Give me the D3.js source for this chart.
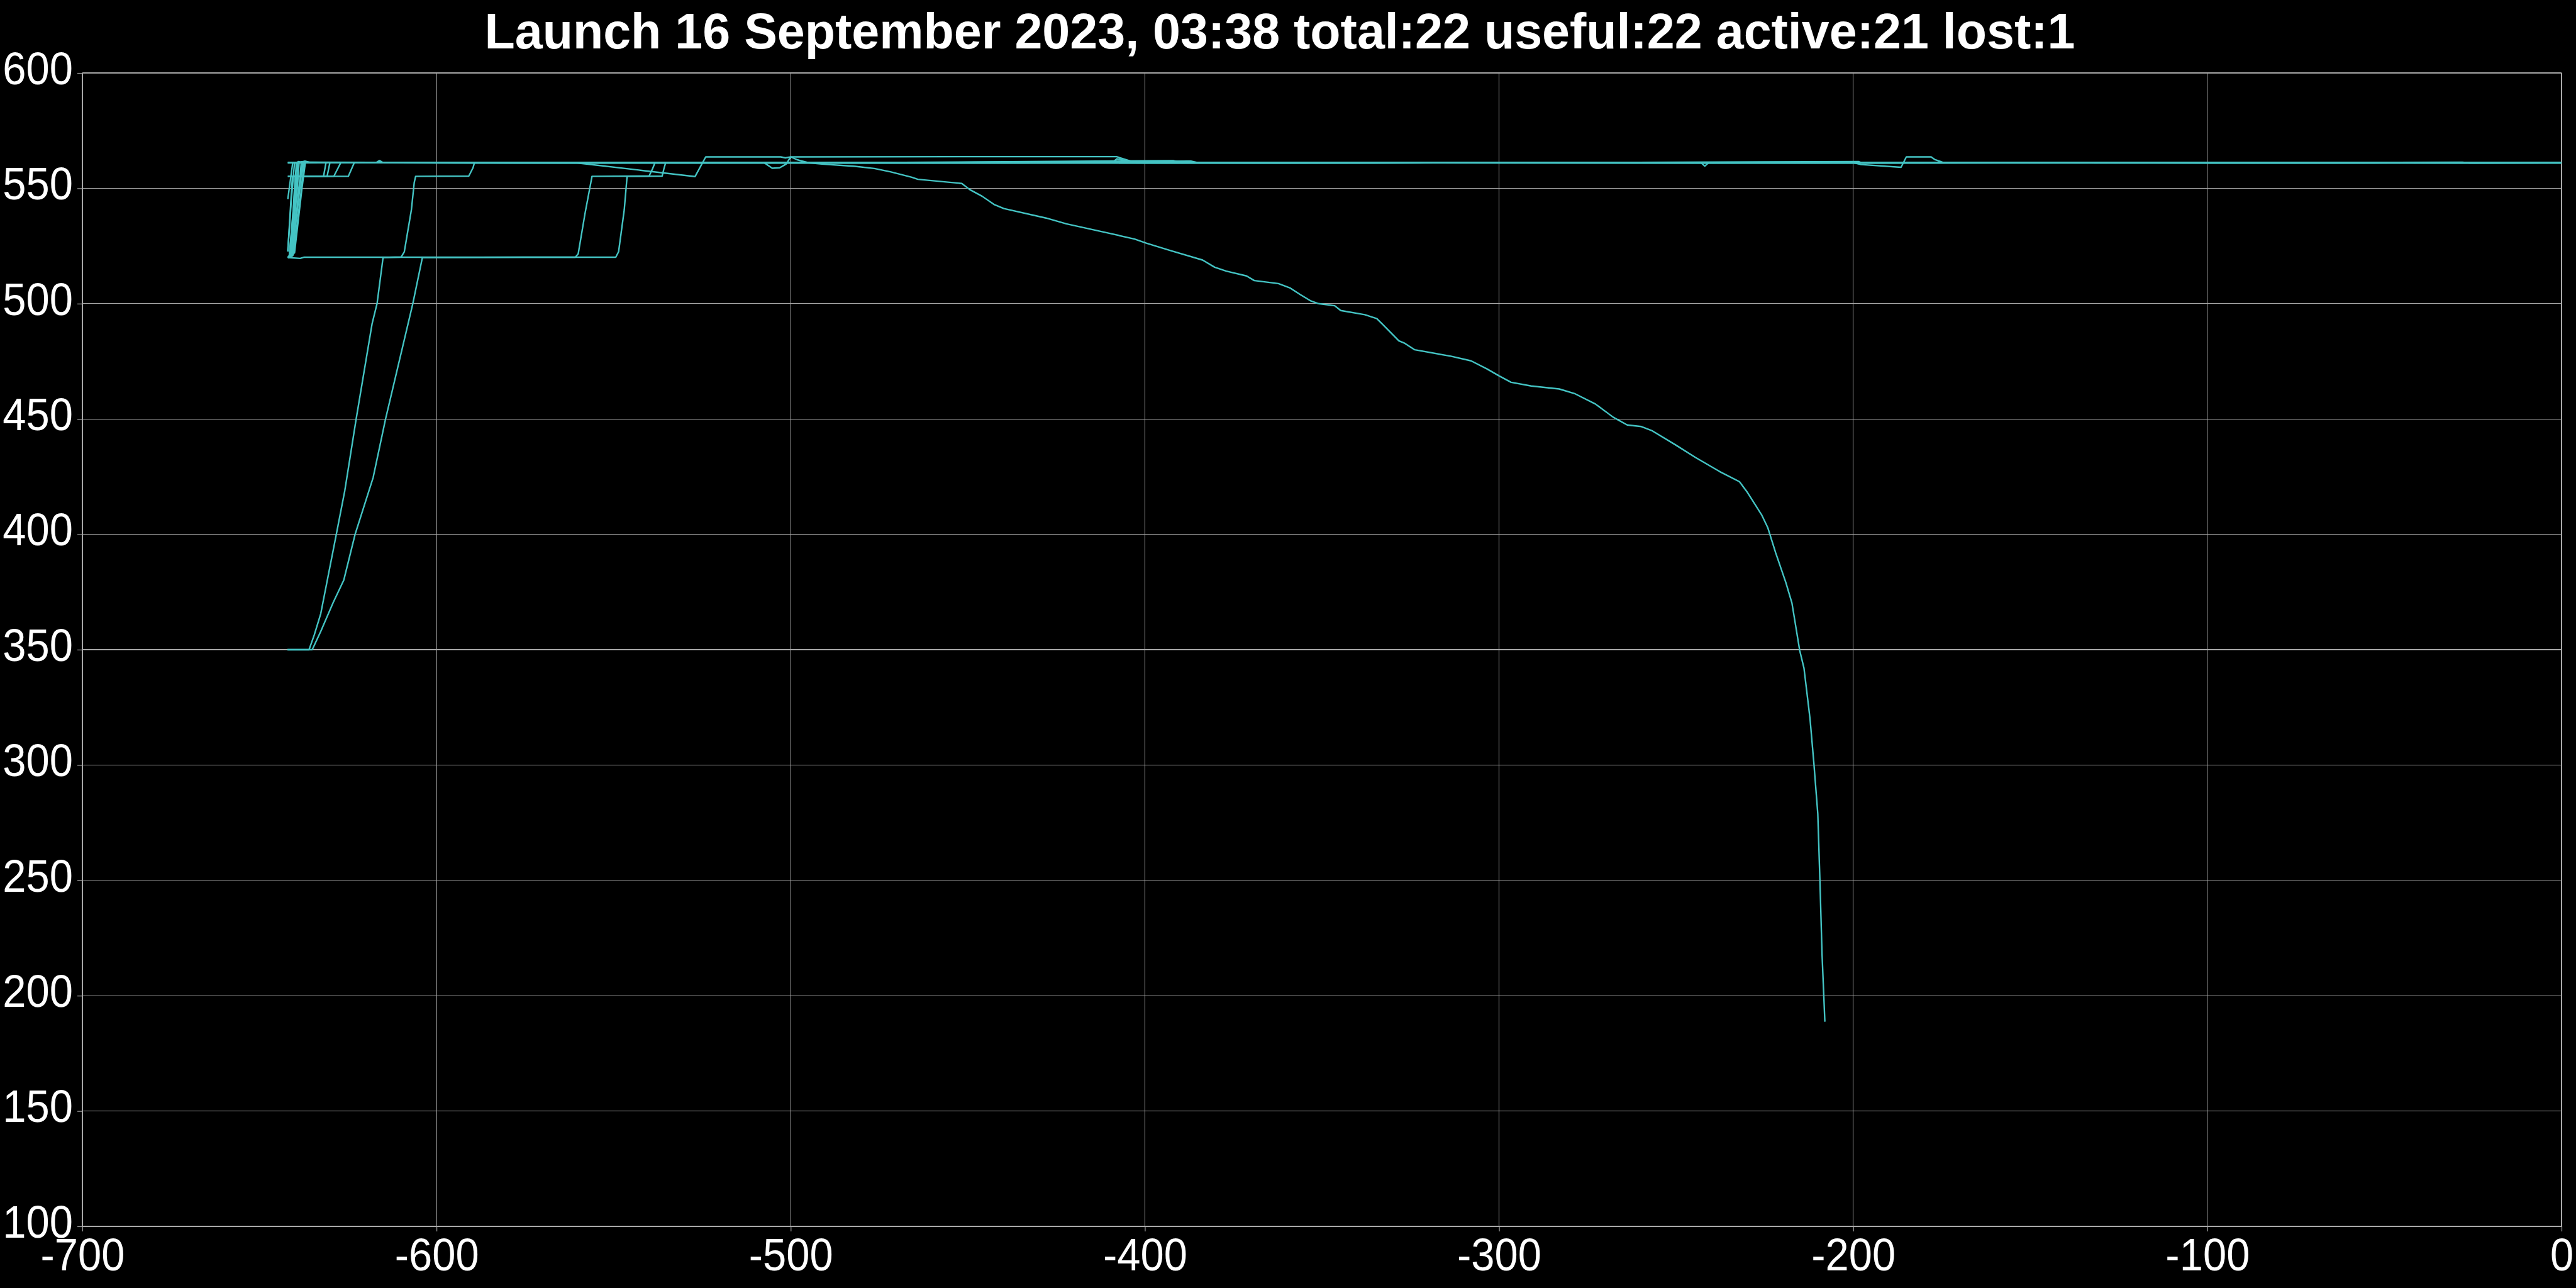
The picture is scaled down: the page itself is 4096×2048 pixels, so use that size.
<!DOCTYPE html>
<html>
<head>
<meta charset="utf-8">
<script src="https://cdn.jsdelivr.net/npm/d3@7/dist/d3.min.js"></script>
<style>
  html, body { margin: 0; padding: 0; background: #000; }
  svg { display: block; }
</style>
</head>
<body>
<svg id="chart" width="4096" height="2048"></svg>
<script>
// ---------------- data ----------------
const titleText = "Launch 16 September 2023, 03:38 total:22 useful:22 active:21 lost:1";
const xTicks = [-700, -600, -500, -400, -300, -200, -100, 0];
const yTicks = [100, 150, 200, 250, 300, 350, 400, 450, 500, 550, 600];

// each track: [day, altitude km]
const sat01 = [[-642.1,350],[-636,350],[-634.5,356.5],[-632.7,365.6],[-628.3,400],[-625.9,419],[-622.7,450],[-618.2,491.3],[-616.8,500],[-615.1,520],[-610,520.2],[-609.1,522.5],[-608.3,529.8],[-607.1,540.7],[-606.3,552.5],[-605.9,555.2],[-590.9,555.3],[-589.7,558.9],[-589.3,561.1],[-540,561.2],[-460,561.0],[-380,561.2],[-290,561.1],[-210,561.0],[-120,561.2],[-40,561.1],[0,561.1]];
const sat02 = [[-642.1,350],[-635.1,350],[-632.7,357.9],[-629.2,370.4],[-626.2,380.1],[-623,400],[-617.9,424.6],[-614.4,450],[-606.7,500],[-604,520],[-575,520.1],[-560.8,520.1],[-560,521.6],[-558.1,538.9],[-556.1,555.2],[-540,555.3],[-539,558.5],[-538.3,561.2],[-470,561.1],[-390,561.0],[-320,561.2],[-230,561.1],[-150,561.2],[-60,561.0],[0,561.1]];
const sat03 = [[-642,520],[-638.5,519.6],[-637.5,520.1],[-600,520.1],[-549.4,520.1],[-548.6,522.5],[-547,540.7],[-546.2,555.2],[-536.3,555.3],[-535.8,558.5],[-535.3,561.2],[-450,561.1],[-360,561.2],[-270,561.0],[-190,561.1],[-100,561.2],[-20,561.0],[0,561.1]];
const sat04 = [[-642,561.1],[-600,561.2],[-560.4,561.0],[-527,555.1],[-524,563.6],[-502.8,563.6],[-501.5,563.2],[-500,563.6],[-450,563.7],[-408,563.7],[-403.6,561.6],[-402,561.1],[-330,561.2],[-250,561.0],[-170,561.1],[-80,561.2],[0,561.1]];
const sat05 = [[-642,520],[-641.3,521],[-639.8,548],[-639.1,561.6],[-638,561.3],[-590,561.1],[-540,561.2],[-507.5,561.1],[-505.2,558.7],[-503.1,558.9],[-501.3,560.5],[-500,563.6],[-498,562.3],[-495,561.1],[-491.2,560.5],[-481.8,559.5],[-476.4,558.6],[-471.7,557.1],[-465.8,554.8],[-464.1,553.9],[-451.7,552.1],[-449.4,549.4],[-446,546.6],[-442.6,543],[-439.8,541.2],[-427.9,537.1],[-422.2,534.6],[-410.9,530.8],[-402.9,528],[-399.6,526.2],[-392.8,523],[-383.7,518.9],[-380.3,515.8],[-377,514.1],[-371.3,512],[-369.1,510],[-362.3,508.7],[-358.9,506.7],[-356.1,503.9],[-353.3,501.3],[-351,500],[-346.4,499.1],[-344.7,497],[-337.9,495.2],[-334.5,493.5],[-332.8,490.9],[-328.3,483.9],[-326.6,482.8],[-323.8,480],[-313.6,477.2],[-307.9,475.2],[-303.4,471.7],[-300,468.7],[-296.6,465.9],[-290.9,464.3],[-283,463],[-278.5,460.9],[-272.8,456.5],[-267.7,450.7],[-263.8,447.4],[-259.8,446.7],[-256.9,445],[-250.1,438.7],[-244.5,433.3],[-237.7,427.2],[-232.1,422.8],[-229.8,418],[-225.8,408.3],[-224.1,402.8],[-221.9,392],[-219,379],[-217.3,370.2],[-215.1,349.6],[-213.9,342],[-212.2,320.2],[-211.1,300.7],[-210,278.9],[-209.4,250],[-208.8,218],[-208,188.7]];
const sat06 = [[-642,522.6],[-640.7,555.2],[-638.3,555.2],[-637.7,561.2],[-580,561.0],[-490,561.2],[-420,561.1],[-340,561.0],[-260,561.2],[-180,561.1],[-90,561.0],[0,561.2]];
const sat07 = [[-642,555.2],[-631.9,555.2],[-631.2,561.2],[-570,561.1],[-480,561.0],[-410,561.2],[-350,561.1],[-243,561.1],[-241.9,559.6],[-240.8,561.1],[-160,561.2],[-70,561.0],[0,561.1]];
const sat08 = [[-642,520],[-640.9,521],[-639.5,555.1],[-630.9,555.2],[-630.1,561.2],[-560,561.1],[-470,561.2],[-400,561.0],[-310,561.1],[-220,561.2],[-130,561.0],[-30,561.2],[0,561.1]];
const sat09 = [[-642,520],[-640.6,521],[-639.3,555.1],[-629,555.2],[-627,561.2],[-555,561.0],[-465,561.1],[-387,561.8],[-385,561.1],[-300,561.2],[-200,561.0],[-110,561.1],[0,561.2]];
const sat10 = [[-642,555.2],[-624.9,555.2],[-623.2,561.2],[-550,561.1],[-455,561.0],[-370,561.2],[-280,561.1],[-198.5,561.6],[-197.5,561.0],[-140,561.1],[-50,561.2],[0,561.0]];
const sat11 = [[-642,520],[-641.5,521],[-640.2,545],[-639.6,561.2],[-617,561.2],[-616.1,562],[-615.2,561.2],[-530,561.1],[-445,561.2],[-365,561.0],[-275,561.1],[-185,561.2],[-95,561.0],[0,561.1]];
const sat12 = [[-642,520],[-641.2,521],[-639.4,548],[-638.8,561.4],[-637.5,561.1],[-520,561.0],[-440,561.1],[-409.2,561.1],[-407.9,562.8],[-406.8,562.5],[-403.6,561.4],[-402.5,561.1],[-320,561.2],[-240,561.0],[-150,561.1],[-60,561.2],[0,561.1]];
const sat13 = [[-642,520],[-641,520.5],[-639,545],[-638.2,561.5],[-637,561.1],[-585,561.2],[-500,561.1],[-430,561.0],[-345,561.2],[-265,561.1],[-200,561.1],[-197.8,560.3],[-186.5,559.1],[-185,563.6],[-178,563.6],[-177,562.5],[-175.3,561.6],[-174.5,561.1],[-110,561.2],[-25,561.0],[0,561.1]];
const sat14 = [[-642,520],[-640.8,521],[-638.6,550],[-637.8,561.6],[-636.5,561.2],[-575,561.0],[-495,561.2],[-425,561.1],[-335,561.0],[-255,561.2],[-165,561.1],[-75,561.0],[0,561.2]];
const sat15 = [[-642,520],[-640.4,521.5],[-638.3,548],[-637.4,561.8],[-636,561.2],[-565,561.1],[-485,561.0],[-415,561.2],[-325,561.1],[-245,561.0],[-155,561.2],[-65,561.1],[0,561.0]];
const sat16 = [[-642,520],[-640.1,522],[-638,550],[-637,561.7],[-635.5,561.1],[-545,561.2],[-475,561.1],[-395,561.0],[-305,561.2],[-235,561.1],[-145,561.0],[-45,561.2],[0,561.1]];
const sat17 = [[-642,522.6],[-641,545],[-640.1,561.2],[-595,561.1],[-510,561.2],[-435,561.0],[-355,561.1],[-285,561.2],[-195,561.0],[-105,561.1],[-15,561.2],[0,561.1]];
const sat18 = [[-642,545.3],[-640.6,561.2],[-590,561.0],[-515,561.1],[-445,561.2],[-360,561.0],[-270,561.1],[-175,561.2],[-85,561.1],[0,561.0]];
const sat19 = [[-642,561.2],[-605,561.1],[-525,561.0],[-455,561.1],[-375,561.2],[-295,561.0],[-205,561.1],[-115,561.2],[-35,561.1],[0,561.1]];
const sat20 = [[-642,520],[-640.6,520.8],[-638.9,550],[-638.4,555.5],[-637.8,561.3],[-610,561.1],[-535,561.2],[-460,561.0],[-380,561.1],[-310,561.2],[-215,561.0],[-125,561.1],[-28,561.3],[-26,561.0],[0,561.1]];
const sat21 = [[-642,520],[-641.6,520.5],[-640.5,540],[-639.9,555],[-639.3,561.2],[-600,561.0],[-520,561.1],[-450,561.2],[-370,561.0],[-290,561.1],[-200,561.2],[-100,561.0],[0,561.2]];
const sat22 = [[-642,561.0],[-620,561.2],[-548,561.1],[-468,561.2],[-392,562.0],[-390,561.1],[-315,561.0],[-225,561.2],[-135,561.1],[-55,561.0],[0,561.1]];

const tracks = [sat01, sat02, sat03, sat04, sat06, sat07, sat08, sat09, sat10, sat11, sat12,
                sat13, sat14, sat15, sat16, sat17, sat18, sat19, sat20, sat21, sat22, sat05];

// ---------------- layout ----------------
const W = 4096, H = 2048;
const plot = { left: 131, right: 4073, top: 116, bottom: 1950 };
const fontFamily = "'Liberation Sans', Arial, Helvetica, sans-serif";
const gridColor = "#a8a8a8";
const lineColor = "#44c4c4";
const labelSqueeze = 0.93;

const svg = d3.select("#chart");
svg.append("rect").attr("width", W).attr("height", H).attr("fill", "#000");

const x = d3.scaleLinear().domain([-700, 0]).range([plot.left, plot.right]);
const y = d3.scaleLinear().domain([100, 600]).range([plot.bottom, plot.top]);

// grid
const grid = svg.append("g").attr("stroke", gridColor).attr("stroke-width", 1.2).attr("shape-rendering", "crispEdges");
grid.selectAll("line.v").data(xTicks).join("line")
  .attr("x1", d => x(d)).attr("x2", d => x(d))
  .attr("y1", plot.top).attr("y2", plot.bottom);
grid.selectAll("line.h").data(yTicks).join("line")
  .attr("y1", d => y(d)).attr("y2", d => y(d))
  .attr("x1", plot.left).attr("x2", plot.right);

// axes
const xAxis = d3.axisBottom(x).tickValues(xTicks).tickSize(8).tickPadding(11).tickFormat(d => String(d));
const yAxis = d3.axisLeft(y).tickValues(yTicks).tickSize(8).tickPadding(7).tickFormat(d => String(d));

const gx = svg.append("g").attr("transform", `translate(0,${plot.bottom})`).call(xAxis);
const gy = svg.append("g").attr("transform", `translate(${plot.left},0)`).call(yAxis);
[gx, gy].forEach(g => {
  g.select(".domain").remove();
  g.selectAll(".tick line").attr("stroke", gridColor).attr("stroke-width", 1.2);
  g.selectAll(".tick text").attr("fill", "#fff").attr("font-family", fontFamily).attr("font-size", 72);
});
gy.selectAll(".tick text").attr("dy", "0.24em")
  .attr("x", -15 / labelSqueeze)
  .attr("transform", `scale(${labelSqueeze},1)`);
gx.selectAll(".tick text").attr("transform", `scale(${labelSqueeze},1)`);

// lines
const line = d3.line().x(d => x(d[0])).y(d => y(d[1]));
svg.append("g")
  .selectAll("path").data(tracks).join("path")
  .attr("d", line)
  .attr("fill", "none")
  .attr("stroke", lineColor)
  .attr("stroke-width", 2.4)
  .attr("stroke-linejoin", "round");

// title
svg.append("text")
  .attr("x", 2035).attr("y", 77)
  .attr("text-anchor", "middle")
  .attr("fill", "#fff")
  .attr("font-family", fontFamily)
  .attr("font-weight", "bold")
  .attr("font-size", 79)
  .text(titleText);
</script>
</body>
</html>
